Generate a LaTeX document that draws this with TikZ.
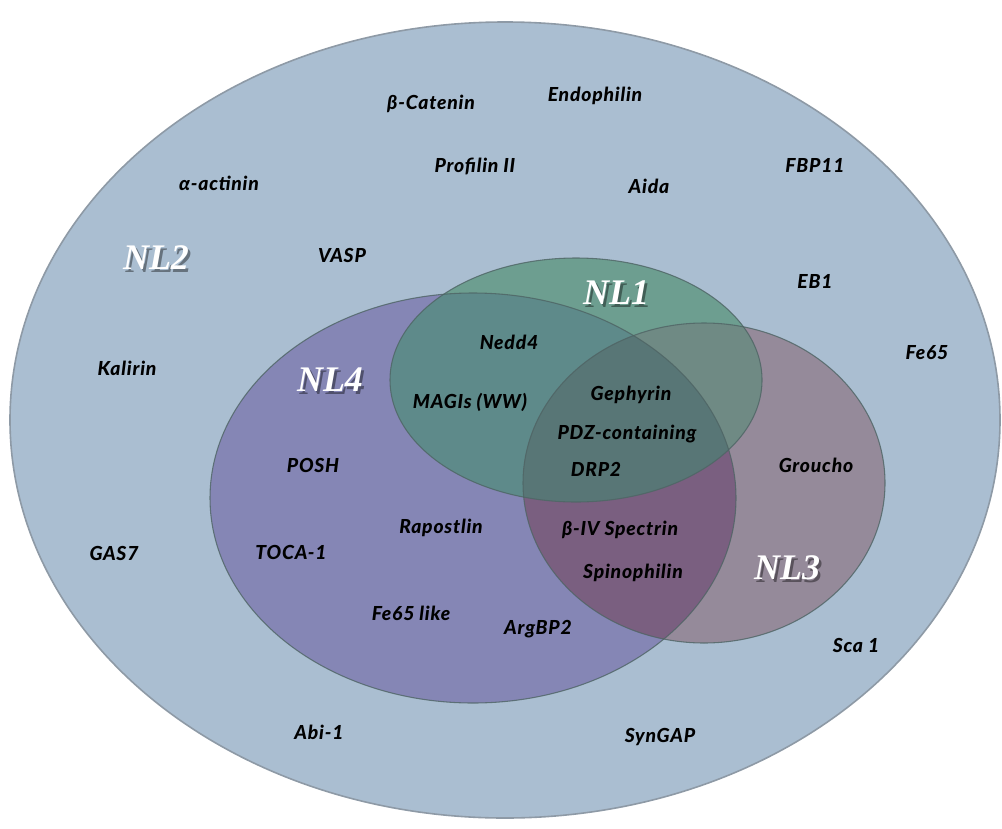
\documentclass[tikz,border=0pt]{standalone}
\usepackage{fontspec}
\setmainfont{Lato}[BoldItalicFont={Lato Black Italic}, LetterSpace=4]
\newfontfamily\nlfont{Liberation Serif}
\usetikzlibrary{calc}
\definecolor{outerc}{HTML}{AABED1}
\definecolor{outerd}{HTML}{8E9AA6}
\definecolor{nlfour}{HTML}{8586B5}
\definecolor{nlone}{HTML}{6D9E90}
\definecolor{nlthree}{HTML}{958A9A}
\definecolor{onefour}{HTML}{5E8A8A}
\definecolor{threefour}{HTML}{7A5F80}
\definecolor{onethree}{HTML}{6F8A84}
\definecolor{allthree}{HTML}{587676}
\definecolor{edgec}{HTML}{4E6464}
\tikzset{
  prot/.style={font=\fontsize{14.5}{16}\selectfont\bfseries\itshape, text=black, inner sep=0pt},
  nllab/.style={font=\fontsize{27}{30}\selectfont\nlfont\bfseries\itshape, text=white, inner sep=0pt},
  nlshadow/.style={font=\fontsize{27}{30}\selectfont\nlfont\bfseries\itshape, text=black, opacity=0.4, inner sep=0pt},
  setedge/.style={draw=edgec, line width=0.8pt, draw opacity=0.8}
}
\newcommand{\nlabel}[3]{%
  \node[nlshadow] (#1s) at ($(#2)+(2.5,3)$) {#3};
  \node[nllab] (#1) at (#2) {#3};}
\begin{document}
\begin{tikzpicture}[x=0.75pt,y=-0.75pt]
\useasboundingbox (0,0) rectangle (1002,828);
% outer set NL2
\fill[outerc] (505,420) ellipse [x radius=495, y radius=398];
\draw[outerd, line width=1.2pt] (505,420) ellipse [x radius=495, y radius=398];
% single sets
\fill[nlfour] (473,498) ellipse [x radius=263, y radius=205];
\fill[nlone] (576,380) ellipse [x radius=186, y radius=122];
\fill[nlthree] (704,483) ellipse [x radius=181, y radius=160];
% pairwise overlaps
\begin{scope}
  \clip (473,498) ellipse [x radius=263, y radius=205];
  \fill[onefour] (576,380) ellipse [x radius=186, y radius=122];
  \fill[threefour] (704,483) ellipse [x radius=181, y radius=160];
\end{scope}
\begin{scope}
  \clip (576,380) ellipse [x radius=186, y radius=122];
  \fill[onethree] (704,483) ellipse [x radius=181, y radius=160];
  \clip (473,498) ellipse [x radius=263, y radius=205];
  \fill[allthree] (704,483) ellipse [x radius=181, y radius=160];
\end{scope}
% outlines
\draw[setedge] (473,498) ellipse [x radius=263, y radius=205];
\draw[setedge] (576,380) ellipse [x radius=186, y radius=122];
\draw[setedge] (704,483) ellipse [x radius=181, y radius=160];
% set labels
\nlabel{nl2}{156,258}{NL2}
\nlabel{nl1}{616,293}{NL1}
\nlabel{nl4}{330,380}{NL4}
\nlabel{nl3}{787,568}{NL3}
% proteins
\node[prot] (bcat) at (431,104) {β-Catenin};
\node[prot] (endo) at (595,96) {Endophilin};
\node[prot] (prof) at (475,166) {Profilin II};
\node[prot] (aida) at (649,186) {Aida};
\node[prot] (fbp) at (815,165) {FBP11};
\node[prot] (aact) at (219,183) {α-actinin};
\node[prot] (vasp) at (342,255) {VASP};
\node[prot] (eb) at (815,281) {EB1};
\node[prot] (nedd) at (509,342) {Nedd4};
\node[prot] (fe) at (927,353) {Fe65};
\node[prot] (kal) at (127,368) {Kalirin};
\node[prot] (magi) at (470,402) {MAGIs (WW)};
\node[prot] (geph) at (631,395) {Gephyrin};
\node[prot] (pdz) at (627,434) {PDZ-containing};
\node[prot] (drp) at (596,469) {DRP2};
\node[prot] (posh) at (313,465) {POSH};
\node[prot] (grou) at (816,465) {Groucho};
\node[prot] (rapo) at (441,528) {Rapostlin};
\node[prot] (bspec) at (620,530) {β-IV Spectrin};
\node[prot] (gas) at (114,553) {GAS7};
\node[prot] (toca) at (291,552) {TOCA-1};
\node[prot] (spin) at (633,573) {Spinophilin};
\node[prot] (fel) at (411,613) {Fe65 like};
\node[prot] (arg) at (538,629) {ArgBP2};
\node[prot] (sca) at (856,645) {Sca 1};
\node[prot] (abi) at (319,732) {Abi-1};
\node[prot] (syn) at (660,737) {SynGAP};
\end{tikzpicture}
\end{document}
